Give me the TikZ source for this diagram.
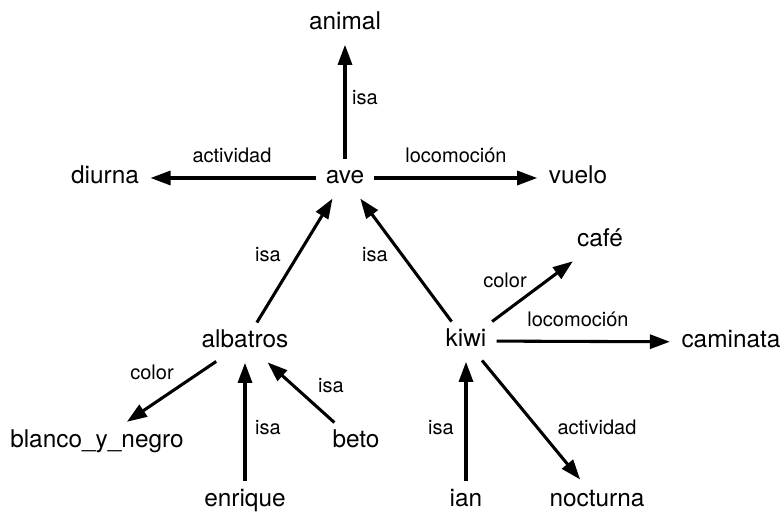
\documentclass[tikz,border=0pt]{standalone}
\usepackage{fontspec}
\setmainfont{TeX Gyre Heros}
\usetikzlibrary{arrows.meta}

\tikzset{
  concept/.style={font=\fontsize{18.3}{21}\selectfont, anchor=base,
    text height=12.9pt, text depth=3.9pt, inner xsep=7.5pt, inner ysep=6pt},
  rel/.style={font=\fontsize{15}{17}\selectfont, anchor=base, inner sep=0pt},
  link/.style={line width=2.3pt, -{Triangle[length=15pt, width=10.5pt]}, shorten >=1pt}
}

\begin{document}
\begin{tikzpicture}[x=0.75pt, y=-0.75pt]
  \useasboundingbox (0,0) rectangle (782,516);

  % concepts
  \node[concept] (animal)   at (345,30)  {animal};
  \node[concept] (ave)      at (345,184) {ave};
  \node[concept] (diurna)   at (105,184) {diurna};
  \node[concept] (vuelo)    at (578,184) {vuelo};
  \node[concept] (albatros) at (245,348) {albatros};
  \node[concept] (kiwi)     at (466,347) {kiwi};
  \node[concept] (cafe)     at (600,247) {café};
  \node[concept] (caminata) at (731,348) {caminata};
  \node[concept] (blanco)   at (97,448)  {blanco\_y\_negro};
  \node[concept] (beto)     at (356,448) {beto};
  \node[concept] (enrique)  at (245,506) {enrique};
  \node[concept] (ian)      at (466,506) {ian};
  \node[concept] (nocturna) at (597,506) {nocturna};

  % relations
  \draw[link] (ave) -- (animal);
  \draw[link] (ave) -- (diurna);
  \draw[link] (ave) -- (vuelo);
  \draw[link] (albatros) -- (ave);
  \draw[link] (kiwi) -- (ave);
  \draw[link] (kiwi) -- (cafe);
  \draw[link] (kiwi) -- (caminata);
  \draw[link] (kiwi) -- (nocturna);
  \draw[link] (ian) -- (kiwi);
  \draw[link] (albatros) -- (blanco);
  \draw[link] (enrique) -- (albatros);
  \draw[link] (beto) -- (albatros);

  % relation labels
  \node[rel] (l1)  at (365,105) {isa};
  \node[rel] (l2)  at (232,163) {actividad};
  \node[rel] (l3)  at (456,163) {locomoción};
  \node[rel] (l4)  at (268,262) {isa};
  \node[rel] (l5)  at (375,262) {isa};
  \node[rel] (l6)  at (505,288) {color};
  \node[rel] (l7)  at (578,327) {locomoción};
  \node[rel] (l8)  at (597,435) {actividad};
  \node[rel] (l9)  at (441,435) {isa};
  \node[rel] (l10) at (152,380) {color};
  \node[rel] (l11) at (268,435) {isa};
  \node[rel] (l12) at (331,393) {isa};
\end{tikzpicture}
\end{document}
